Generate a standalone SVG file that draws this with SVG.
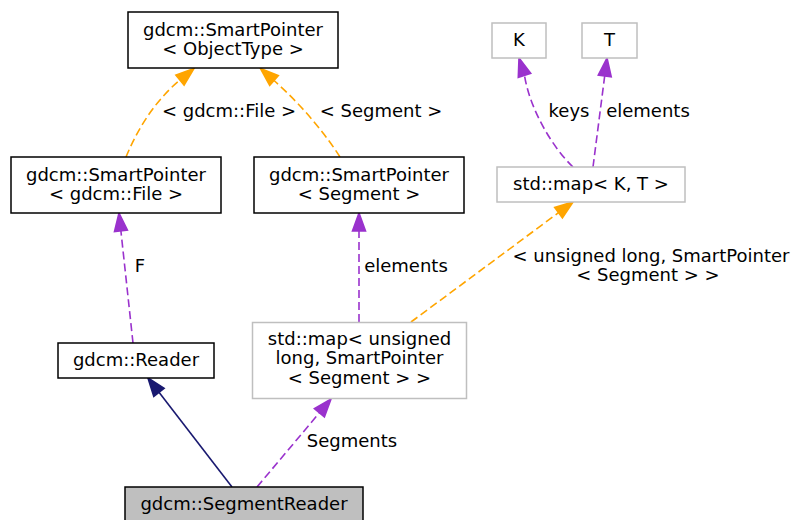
<svg xmlns="http://www.w3.org/2000/svg" width="795" height="520" viewBox="0 0 795 520">
<style>
text{font-family:"DejaVu Sans","Liberation Sans",sans-serif;font-size:18px;fill:#000;text-anchor:middle}
.b{fill:#fff;stroke:#000;stroke-width:1.5}
.g{fill:#fff;stroke:#bfbfbf;stroke-width:1.5}
.cur{fill:#bfbfbf;stroke:#000;stroke-width:1.5}
.e{fill:none;stroke-width:1.6}
.d{stroke-dasharray:8,4}
.o{stroke:#ffa500}.oa{fill:#ffa500;stroke:#ffa500;stroke-width:1.6}
.p{stroke:#9a32cd}.pa{fill:#9a32cd;stroke:#9a32cd;stroke-width:1.6}
.n{stroke:#191970}.na{fill:#191970;stroke:#191970;stroke-width:1.6}
</style>
<rect width="795" height="520" fill="#fff"/>
<g id="edges">
<path class="e n" d="M232,487 L159,392.3"/>
<polygon class="na" points="148,378 164.1,388.3 153.8,396.3"/>
<path class="e p d" d="M257,487 L319.4,412.8"/>
<polygon class="pa" points="331,399 324.4,417 314.4,408.6"/>
<path class="e p d" d="M133,343 L120.9,230.9"/>
<polygon class="pa" points="119,213 127.4,230.2 114.5,231.6"/>
<path class="e p d" d="M359,322 L359,231"/>
<polygon class="pa" points="359,213 365.5,231 352.5,231"/>
<path class="e o d" d="M411,322 L558.5,212.7"/>
<polygon class="oa" points="573,202 562.4,217.9 554.7,207.5"/>
<path class="e p d" d="M573,167 C553,148 530,110 524.5,75.3"/>
<polygon class="pa" points="519,58 530.7,73.3 518.3,77.3"/>
<path class="e p d" d="M593,167 L604.7,75.9"/>
<polygon class="pa" points="607,58 611.2,76.7 598.3,75"/>
<path class="e o d" d="M126,157 C135,135 152,103 180,80"/>
<polygon class="oa" points="193.9,68.6 184.1,85 175.9,75"/>
<path class="e o d" d="M340,157 C328,138 305,108 274,80.5"/>
<polygon class="oa" points="260.5,68.5 278.3,75.6 269.7,85.4"/>
<text x="229" y="117">&lt; gdcm::File &gt;</text>
<text x="381" y="117">&lt; Segment &gt;</text>
<text x="569" y="117">keys</text>
<text x="648" y="117">elements</text>
<text x="140" y="272">F</text>
<text x="406" y="272">elements</text>
<text x="651" y="262">&lt; unsigned long, SmartPointer</text>
<text x="648" y="281">&lt; Segment &gt; &gt;</text>
<text x="352" y="447">Segments</text>
</g>
<g id="node_sp_objecttype">
<rect class="b" x="128" y="12" width="210" height="56"/>
<text x="233" y="35.5">gdcm::SmartPointer</text>
<text x="233" y="54.5">&lt; ObjectType &gt;</text>
</g>
<g id="node_sp_file">
<rect class="b" x="11" y="157" width="210" height="56"/>
<text x="116" y="180.5">gdcm::SmartPointer</text>
<text x="116" y="199.5">&lt; gdcm::File &gt;</text>
</g>
<g id="node_sp_segment">
<rect class="b" x="254" y="157" width="210" height="56"/>
<text x="359" y="180.5">gdcm::SmartPointer</text>
<text x="359" y="199.5">&lt; Segment &gt;</text>
</g>
<g id="node_K">
<rect class="g" x="492" y="23" width="54" height="35"/>
<text x="519" y="46">K</text>
</g>
<g id="node_T">
<rect class="g" x="582" y="23" width="55" height="35"/>
<text x="609.5" y="46">T</text>
</g>
<g id="node_map_kt">
<rect class="g" x="497" y="167" width="188" height="35"/>
<text x="591" y="189.5">std::map&lt; K, T &gt;</text>
</g>
<g id="node_reader">
<rect class="b" x="58" y="343" width="156" height="35"/>
<text x="136" y="366">gdcm::Reader</text>
</g>
<g id="node_map_segments">
<rect class="g" x="252.5" y="322.5" width="214" height="76"/>
<text x="359.5" y="345">std::map&lt; unsigned</text>
<text x="359.5" y="364">long, SmartPointer</text>
<text x="359.5" y="383.5">&lt; Segment &gt; &gt;</text>
</g>
<g id="node_segmentreader">
<rect class="cur" x="125" y="487" width="238" height="40"/>
<text x="244" y="510">gdcm::SegmentReader</text>
</g>
</svg>
